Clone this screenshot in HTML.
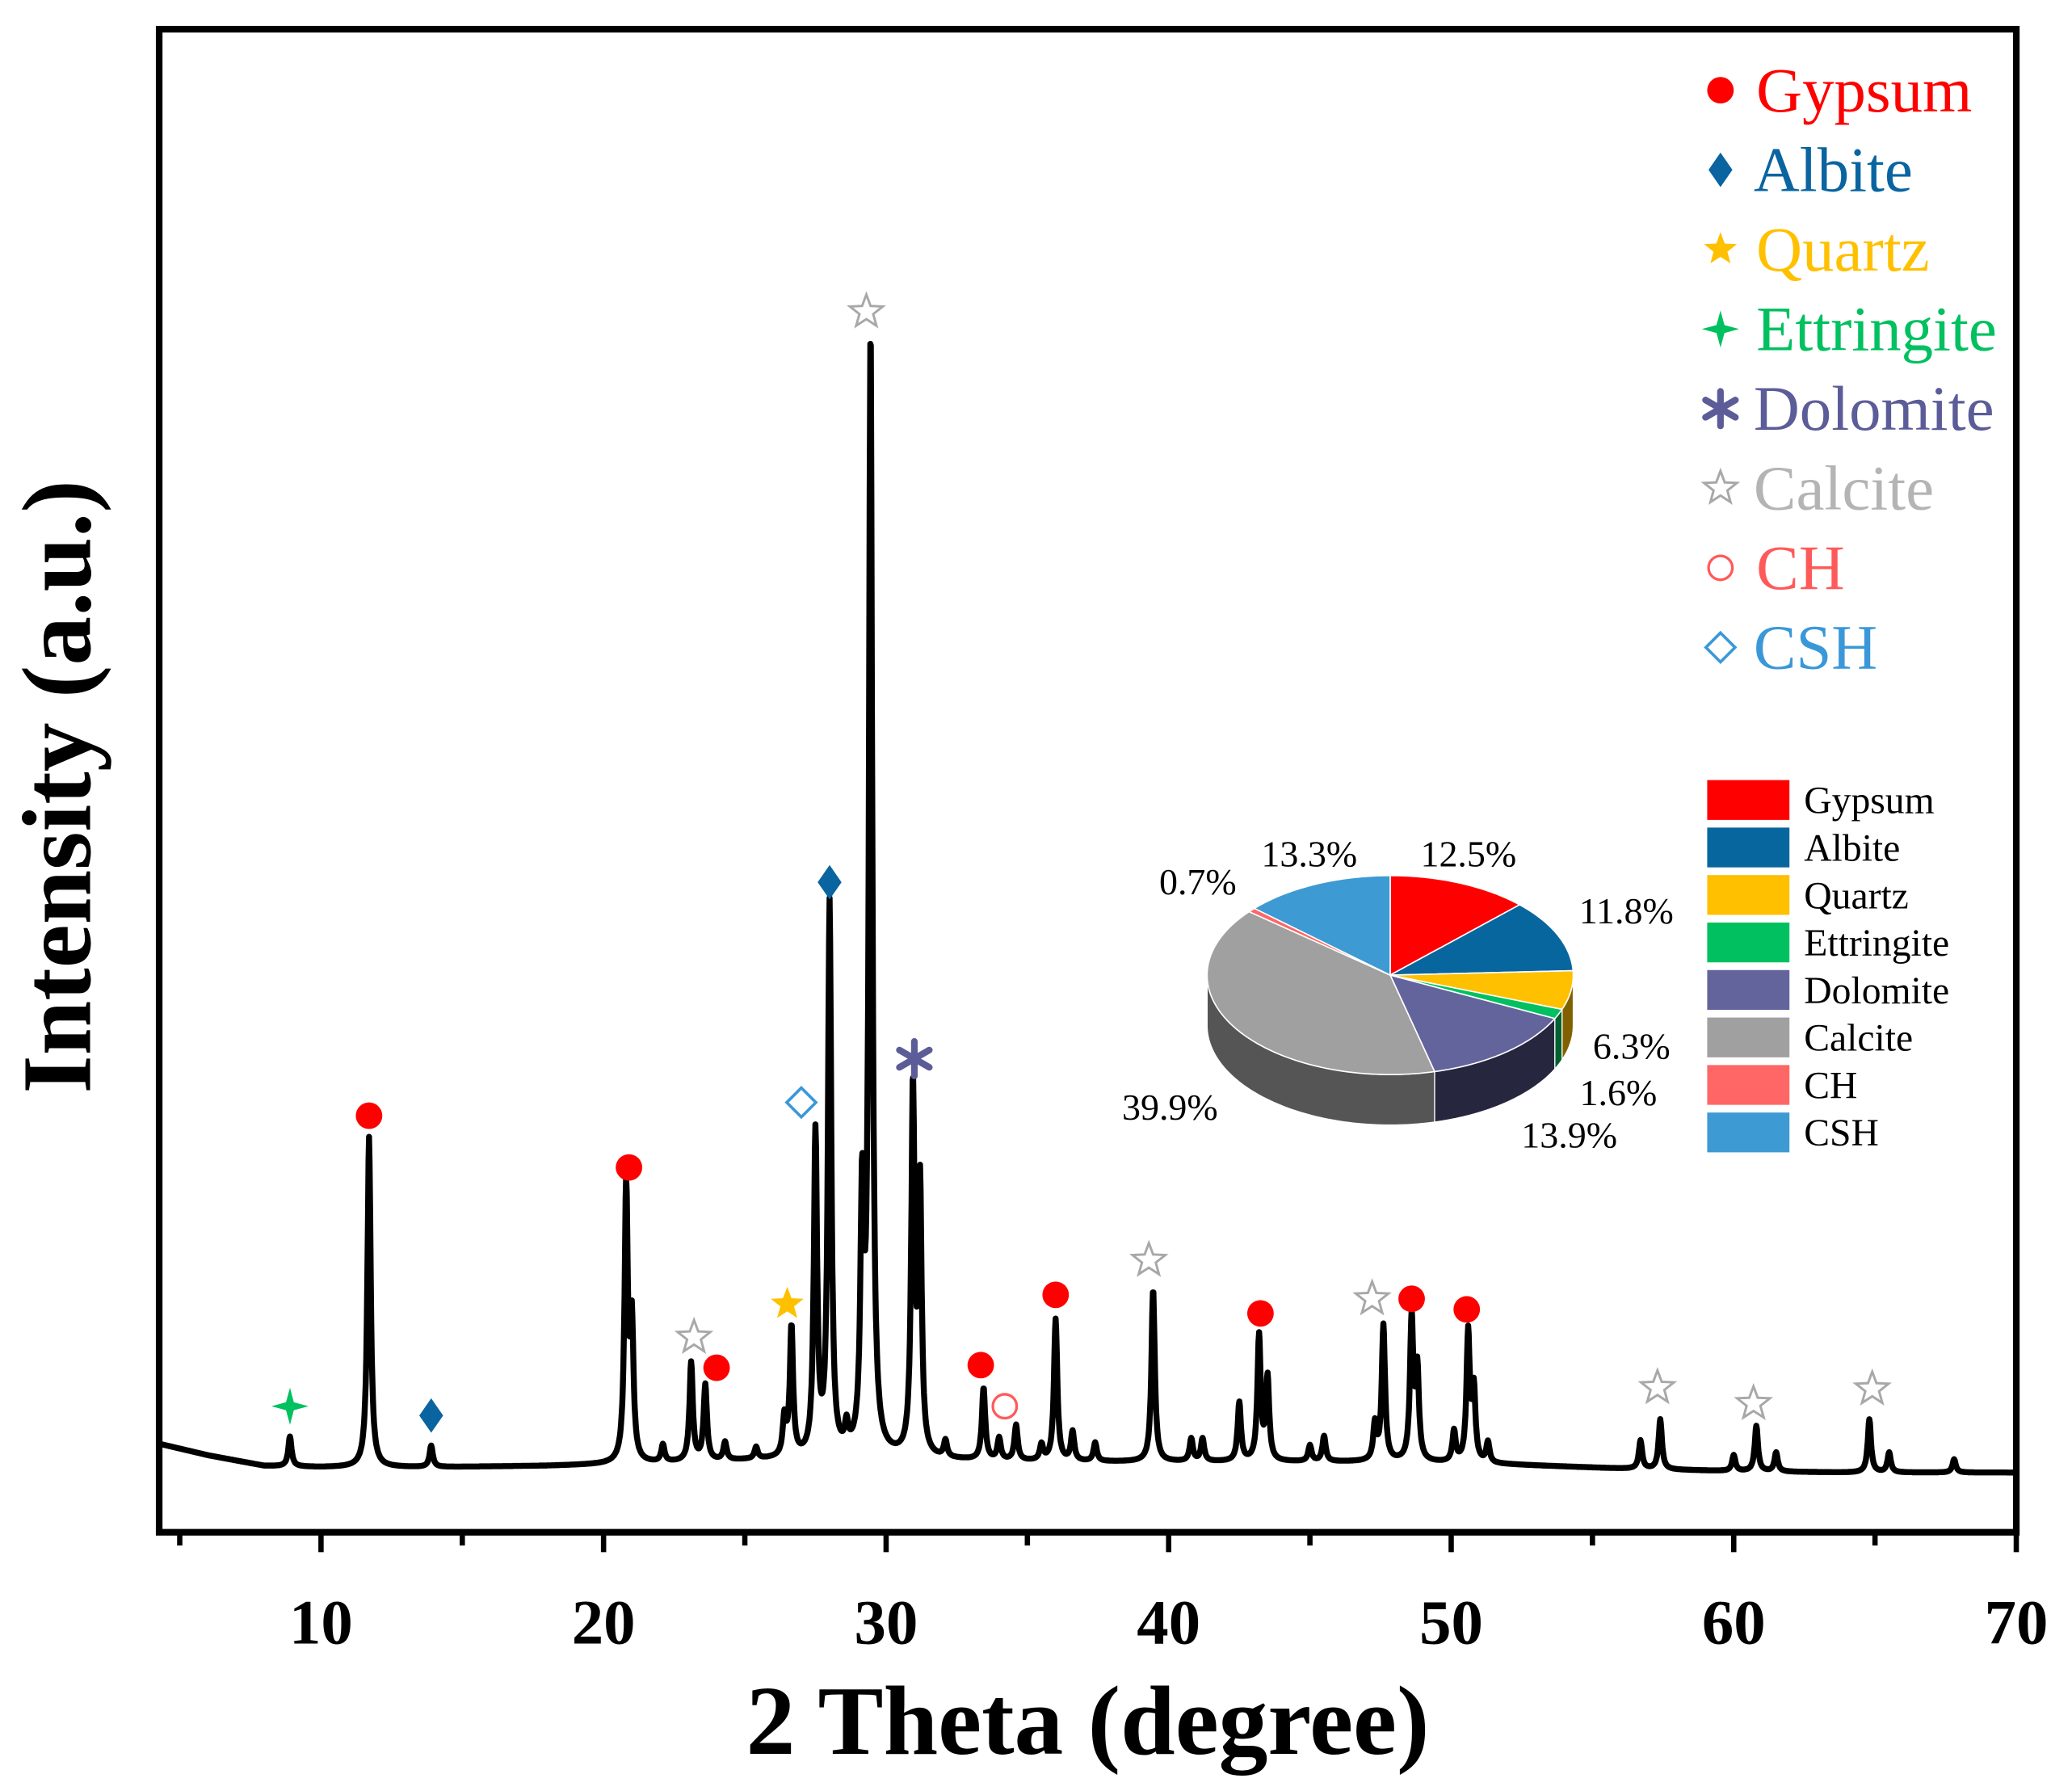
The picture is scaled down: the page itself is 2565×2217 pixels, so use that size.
<!DOCTYPE html>
<html><head><meta charset="utf-8"><style>
html,body{margin:0;padding:0;background:#fff;}
svg{display:block;}
text{font-family:"Liberation Serif",serif;}
</style></head><body>
<svg id="chart" width="2565" height="2217" viewBox="0 0 1562 1350" xmlns="http://www.w3.org/2000/svg">
<rect x="0" y="0" width="1562" height="1350" fill="#fff"/>
<g id="plot"></g>
<rect x="120" y="22" width="1400" height="1133" fill="none" stroke="#000" stroke-width="5"/>
<g id="axes"></g>
<text x="820" y="1322" font-size="74" font-weight="bold" text-anchor="middle">2 Theta (degree)</text>
<text transform="translate(68,593) rotate(-90)" font-size="74" font-weight="bold" text-anchor="middle">Intensity (a.u.)</text>
<g id="markers"></g>
<g id="legend"></g>
<g id="pie"></g>
<g id="pielegend"></g>
</svg>
<script>
const NS='http://www.w3.org/2000/svg';
// ---- data ----
const xTicks=[10,20,30,40,50,60,70];
const baseDeg=[4.2,5,6,7,8,10,14,18,20,22,25,27,30,33,36,40,44,48,52,56,60,64,68,70];
const baseVal=[69,65,60,56,52,51,51,52,53,54,56,57,58,56,55,55,55,55,53,50,48,47,47,47];
const peakDeg=[8.9,11.7,13.9,20.8,21.0,22.1,23.1,23.6,24.3,25.4,26.4,26.65,27.5,28.0,28.6,29.15,29.45,30.95,31.2,32.1,33.45,34.0,34.6,35.5,36.0,36.6,37.4,39.45,40.8,41.2,42.5,43.2,43.5,45.0,45.5,47.3,47.6,48.6,48.8,50.1,50.6,50.8,51.3,56.7,57.4,60.0,60.8,61.5,64.8,65.5,67.8];
const peakTop=[1083,857,1090,898,1003,1090,1028,1045,1088,1092,1072,1003,858,685,1082,915,255,825,900,1088,1047,1085,1075,1090,995,1080,1088,972,1085,1085,1058,1008,1040,1090,1083,1075,1000,995,1035,1080,1006,1050,1088,1086,1070,1097,1075,1095,1070,1095,1100];
const pieNames=['Gypsum','Albite','Quartz','Ettringite','Dolomite','Calcite','CH','CSH'];
const pieVals=[12.5,11.8,6.3,1.6,13.9,39.9,0.7,13.3];
const pieColors=['#ff0000','#08669e','#ffc000','#00c060','#64649c','#a0a0a0','#ff6666','#3d9ad3'];
const pieSide=['#990000','#04344f','#806000','#006030','#26263f','#555555','#993333','#1e4d69'];
const legNames=['Gypsum','Albite','Quartz','Ettringite','Dolomite','Calcite','CH','CSH'];
const legColors=['#ff0000','#0a64a0','#ffc000','#00c060','#5c5c98','#b4b4b4','#ff5a5a','#3a98d8'];
// ---- scales ----
const X=d=>242+(d-10)*21.3;
const Y=v=>1157-v;
function mk(tag,attrs,parent){const e=document.createElementNS(NS,tag);for(const k in attrs)e.setAttribute(k,attrs[k]);parent.appendChild(e);return e;}
function baseAt(d){for(let i=0;i<baseDeg.length-1;i++){if(d<=baseDeg[i+1]){const t=(d-baseDeg[i])/(baseDeg[i+1]-baseDeg[i]);return baseVal[i]+t*(baseVal[i+1]-baseVal[i]);}}return baseVal[baseVal.length-1];}
const plot=document.getElementById('plot');
let pts=[];
for(let d=4.2;d<=70;d+=0.02){let v=baseAt(d);
 for(let i=0;i<peakDeg.length;i++){const hh=(1157-peakTop[i])-baseAt(peakDeg[i]);const w=0.07;const dx=(d-peakDeg[i])/w;v+=hh/(1+dx*dx);}
 pts.push(X(d).toFixed(1)+','+Y(v).toFixed(1));}
const line=mk('polyline',{points:pts.join(' '),fill:'none',stroke:'#000','stroke-width':4.5,'stroke-linejoin':'round'},plot);


const axes=document.getElementById('axes');
for(let d=5;d<=70;d+=5){const major=d%10===0;const t=mk('line',{x1:X(d),x2:X(d),y1:1157,y2:major?1170:1165,stroke:'#000','stroke-width':4},axes);
 
 }
xTicks.forEach(d=>{const t=mk('text',{x:X(d),y:1239,'font-size':48,'font-weight':'bold','text-anchor':'middle'},axes);t.textContent=d;
 
 });
const M=document.getElementById('markers');
function star(cx,cy,r,n,inner){let p=[];for(let i=0;i<2*n;i++){const a=-Math.PI/2+i*Math.PI/n;const rr=i%2?r*inner:r;p.push((cx+rr*Math.cos(a)).toFixed(1)+','+(cy+rr*Math.sin(a)).toFixed(1));}return p.join(' ');}
function marker(type,cx,cy,s,name){let e;
 if(type==='gyp')e=mk('circle',{cx,cy,r:10*s,fill:'#ff0000'},M);
 else if(type==='alb')e=mk('polygon',{points:`${cx},${cy-13*s} ${cx+9*s},${cy} ${cx},${cy+13*s} ${cx-9*s},${cy}`,fill:'#0a64a0'},M);
 else if(type==='qtz')e=mk('polygon',{points:star(cx,cy,13*s,5,0.42),fill:'#ffc000'},M);
 else if(type==='ett')e=mk('polygon',{points:star(cx,cy,14*s,4,0.3),fill:'#00c060'},M);
 else if(type==='dol'){e=mk('g',{},M);for(let k=0;k<3;k++){const a=Math.PI/2+k*Math.PI/3;mk('line',{x1:cx-13*s*Math.cos(a),y1:cy-13*s*Math.sin(a),x2:cx+13*s*Math.cos(a),y2:cy+13*s*Math.sin(a),stroke:'#5c5c98','stroke-width':5*s,'stroke-linecap':'round'},e);}}
 else if(type==='cal')e=mk('polygon',{points:star(cx,cy,13*s,5,0.42),fill:'none',stroke:'#a8a8a8','stroke-width':1.8},M);
 else if(type==='ch')e=mk('circle',{cx,cy,r:9*s,fill:'none',stroke:'#ff5a5a','stroke-width':2},M);
 else if(type==='csh')e=mk('polygon',{points:`${cx},${cy-11*s} ${cx+11*s},${cy} ${cx},${cy+11*s} ${cx-11*s},${cy}`,fill:'none',stroke:'#3a98d8','stroke-width':2.2},M);
 
 }
const annDeg=[11.7,20.9,24.0,33.35,36.0,43.25,48.6,50.55,28.0,13.9,26.5,8.9,31.0,29.3,23.2,39.3,47.2,57.3,60.7,64.9,34.2,27.0];
const annY=[841,880,1031,1029,976,990,979,987,665,1067,983,1060,798,235,1008,950,979,1046,1058,1047,1060,831];
const annType=['gyp','gyp','gyp','gyp','gyp','gyp','gyp','gyp','alb','alb','qtz','ett','dol','cal','cal','cal','cal','cal','cal','cal','ch','csh'];
annDeg.forEach((d,i)=>marker(annType[i],X(d),annY[i],1,'peak-marker-'+annType[i]));
const typeList=['gyp','alb','qtz','ett','dol','cal','ch','csh'];
const L=document.getElementById('legend');
legNames.forEach((n,i)=>{const y=68+i*60;marker(typeList[i],1297,y,1,'legend-symbol-'+n.toLowerCase());
 const t=mk('text',{x:n==='Albite'||n==='Dolomite'||n==='Calcite'||n==='CSH'?1322:1324,y:y+16,'font-size':48,fill:legColors[i]},L);t.textContent=n;
 
 });
const P=document.getElementById('pie');
const cx=1048,cy=735,rx=138,ry=75,dep=38;
let tot=pieVals.reduce((a,b)=>a+b,0);let a0=-Math.PI/2;
const angs=pieVals.map(v=>{const s=a0;a0+=v/tot*2*Math.PI;return [s,a0];});
angs.forEach(([s,e],i)=>{const lo=Math.max(s,0),hi=Math.min(e,Math.PI);
 const segs=[[lo,hi]];if(e>2*Math.PI){segs.push([Math.max(s,2*Math.PI),Math.min(e,3*Math.PI)].map(x=>x-2*Math.PI));}
 segs.forEach(([l,h])=>{if(h<=l)return;let d=`M${cx+rx*Math.cos(l)},${cy+ry*Math.sin(l)}`;
  for(let t=l;t<=h;t+=0.02)d+=` L${cx+rx*Math.cos(t)},${cy+ry*Math.sin(t)}`;
  d+=` L${cx+rx*Math.cos(h)},${cy+ry*Math.sin(h)}`;
  for(let t=h;t>=l;t-=0.02)d+=` L${cx+rx*Math.cos(t)},${cy+dep+ry*Math.sin(t)}`;
  d+=` L${cx+rx*Math.cos(l)},${cy+dep+ry*Math.sin(l)} Z`;
  const p=mk('path',{d,fill:pieSide[i],stroke:'#fff','stroke-width':0.8},P);
  
  });});
angs.forEach(([s,e],i)=>{let d=`M${cx},${cy} L${cx+rx*Math.cos(s)},${cy+ry*Math.sin(s)}`;
 for(let t=s;t<=e;t+=0.02)d+=` L${cx+rx*Math.cos(t)},${cy+ry*Math.sin(t)}`;
 d+=` L${cx+rx*Math.cos(e)},${cy+ry*Math.sin(e)} Z`;
 const p=mk('path',{d,fill:pieColors[i],stroke:'#fff','stroke-width':1},P);
 
 });
const labPos=[[1107,653],[1226,696],[1230,798],[1220,833],[1183,865],[882,844],[903,674],[987,653]];
pieVals.forEach((v,i)=>{const t=mk('text',{x:labPos[i][0],y:labPos[i][1],'font-size':28,'text-anchor':'middle'},P);t.textContent=v.toFixed(1)+'%';
 
 });
const PL=document.getElementById('pielegend');
pieNames.forEach((n,i)=>{const y=588+i*35.8;const r=mk('rect',{x:1287,y,width:62,height:30,fill:pieColors[i]},PL);
 
 
 const t=mk('text',{x:1360,y:y+25,'font-size':29},PL);t.textContent=n;
 
 });
</script>
</body></html>
